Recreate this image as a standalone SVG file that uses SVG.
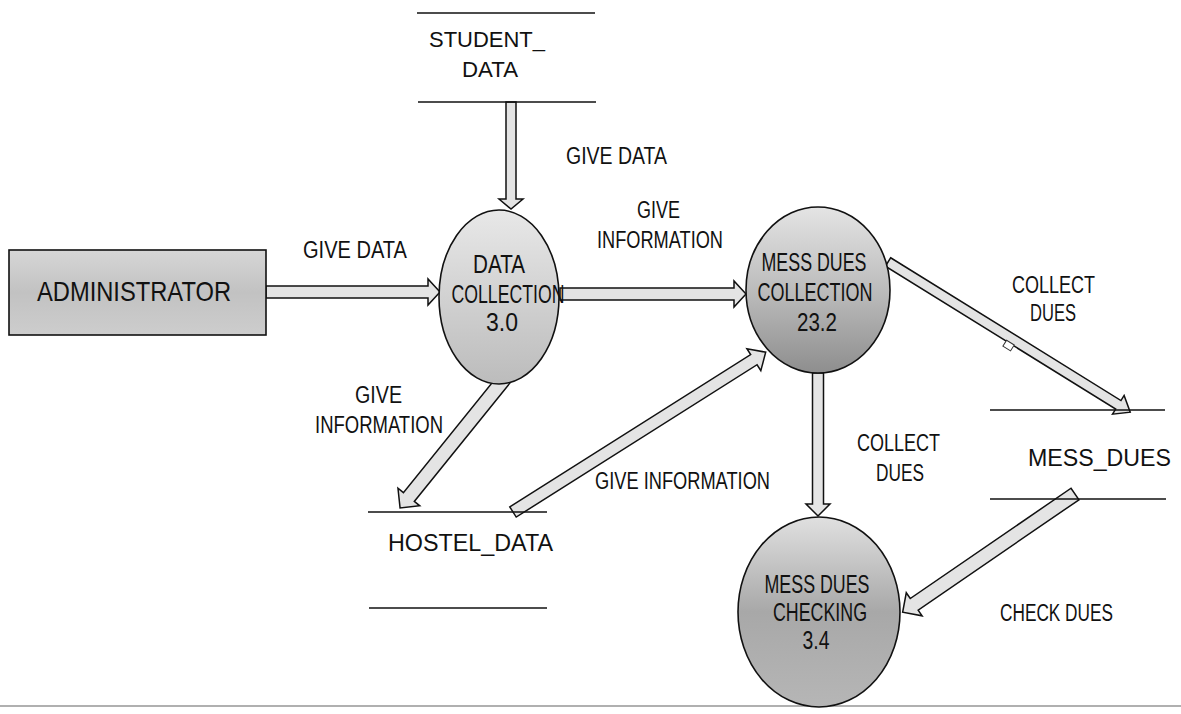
<svg xmlns="http://www.w3.org/2000/svg" width="1181" height="714" viewBox="0 0 1181 714">
<style>
text{font-family:"Liberation Sans",Arial,sans-serif;fill:#111}
.lbl{font-size:23px}
.node{font-size:25px}
.store{font-size:24px}
.sline{stroke:#111;stroke-width:1.6;fill:none}
.arrow{fill:#e4e4e4;stroke:#111;stroke-width:1.5;stroke-linejoin:miter}
.edge{stroke:#111;stroke-width:1.6}
</style>
<defs>
<linearGradient id="gBox" x1="0" y1="0" x2="0" y2="1">
<stop offset="0" stop-color="#d6d6d6"/><stop offset="0.5" stop-color="#c2c2c2"/><stop offset="1" stop-color="#cdcdcd"/>
</linearGradient>
<linearGradient id="gDC" x1="0" y1="0" x2="0" y2="1">
<stop offset="0" stop-color="#e8e8e8"/><stop offset="0.6" stop-color="#cdcdcd"/><stop offset="1" stop-color="#bcbcbc"/>
</linearGradient>
<linearGradient id="gMDC" x1="0" y1="0" x2="0" y2="1">
<stop offset="0" stop-color="#e4e4e4"/><stop offset="0.5" stop-color="#bcbcbc"/><stop offset="1" stop-color="#8e8e8e"/>
</linearGradient>
<linearGradient id="gChk" x1="0" y1="0" x2="0" y2="1">
<stop offset="0" stop-color="#e0e0e0"/><stop offset="0.5" stop-color="#a8a8a8"/><stop offset="1" stop-color="#b6b6b6"/>
</linearGradient>
</defs>
<rect width="1181" height="714" fill="#fff"/>
<line x1="0" y1="706" x2="1181" y2="706" stroke="#b0b0b0" stroke-width="2"/>

<g id="connectors">
<polygon class="arrow" transform="translate(266,292)" points="0,-6 162,-6 162,-13 174,0 162,13 162,6 0,6"/>
<polygon class="arrow" transform="translate(511,102) rotate(90)" points="0,-5 97,-5 97,-12 107,0 97,12 97,5 0,5"/>
<polygon class="arrow" transform="translate(560,294)" points="0,-6 174,-6 174,-13 186,0 174,13 174,6 0,6"/>
<g transform="translate(888,262) rotate(31.8)">
<polygon class="arrow" points="0,-5 271,-5 271,-11 285,0 271,11 271,5 0,5"/>
<rect x="142" y="4" width="9" height="7" fill="#fff" stroke="#333" stroke-width="1"/>
</g>
<polygon class="arrow" transform="translate(818,373) rotate(90)" points="0,-5.5 131,-5.5 131,-12 143,0 131,12 131,5.5 0,5.5"/>
<polygon class="arrow" transform="translate(1075,494) rotate(145.55)" points="0,-7 195,-7 195,-14 209,0 195,14 195,7 0,7"/>
<polygon class="arrow" transform="translate(505,378) rotate(128.93)" points="0,-7 153,-7 153,-14 167,0 153,14 153,7 0,7"/>
<polygon class="arrow" transform="translate(513,512) rotate(-32.31)" points="0,-6 285,-6 285,-13 299,0 285,13 285,6 0,6"/>
<text class="lbl" x="303" y="258" textLength="104" lengthAdjust="spacingAndGlyphs">GIVE DATA</text>
<text class="lbl" x="566" y="164" textLength="101" lengthAdjust="spacingAndGlyphs">GIVE DATA</text>
<text class="lbl" x="637" y="218" textLength="43" lengthAdjust="spacingAndGlyphs">GIVE</text>
<text class="lbl" x="597" y="248" textLength="126" lengthAdjust="spacingAndGlyphs">INFORMATION</text>
<text class="lbl" x="1012" y="293" textLength="83" lengthAdjust="spacingAndGlyphs">COLLECT</text>
<text class="lbl" x="1030" y="321" textLength="46" lengthAdjust="spacingAndGlyphs">DUES</text>
<text class="lbl" x="857" y="451" textLength="83" lengthAdjust="spacingAndGlyphs">COLLECT</text>
<text class="lbl" x="876" y="481" textLength="48" lengthAdjust="spacingAndGlyphs">DUES</text>
<text class="lbl" x="1000" y="621" textLength="113" lengthAdjust="spacingAndGlyphs">CHECK DUES</text>
<text class="lbl" x="595" y="489" textLength="175" lengthAdjust="spacingAndGlyphs">GIVE INFORMATION</text>
<text class="lbl" x="355" y="403" textLength="47" lengthAdjust="spacingAndGlyphs">GIVE</text>
<text class="lbl" x="315" y="433" textLength="128" lengthAdjust="spacingAndGlyphs">INFORMATION</text>
</g>

<g id="administrator">
<rect x="9" y="250" width="257" height="85" fill="url(#gBox)" class="edge"/>
<text x="37" y="301" font-size="28" textLength="194" lengthAdjust="spacingAndGlyphs">ADMINISTRATOR</text>
</g>

<g id="data-collection">
<ellipse cx="499" cy="297" rx="60" ry="87" fill="url(#gDC)" class="edge"/>
<text class="node" x="499" y="273" text-anchor="middle" textLength="52" lengthAdjust="spacingAndGlyphs">DATA</text>
<text class="node" x="508" y="303" text-anchor="middle" textLength="113" lengthAdjust="spacingAndGlyphs">COLLECTION</text>
<text class="node" x="502" y="331" text-anchor="middle" textLength="32" lengthAdjust="spacingAndGlyphs">3.0</text>
</g>

<g id="mess-dues-collection">
<ellipse cx="818" cy="290" rx="72" ry="83" fill="url(#gMDC)" class="edge"/>
<text class="node" x="814" y="271" text-anchor="middle" textLength="105" lengthAdjust="spacingAndGlyphs">MESS DUES</text>
<text class="node" x="815" y="301" text-anchor="middle" textLength="115" lengthAdjust="spacingAndGlyphs">COLLECTION</text>
<text class="node" x="817" y="331" text-anchor="middle" textLength="40" lengthAdjust="spacingAndGlyphs">23.2</text>
</g>

<g id="mess-dues-checking">
<ellipse cx="819" cy="612" rx="81" ry="95" fill="url(#gChk)" class="edge"/>
<text class="node" x="817" y="593" text-anchor="middle" textLength="105" lengthAdjust="spacingAndGlyphs">MESS DUES</text>
<text class="node" x="820" y="621" text-anchor="middle" textLength="94" lengthAdjust="spacingAndGlyphs">CHECKING</text>
<text class="node" x="816" y="649" text-anchor="middle" textLength="27" lengthAdjust="spacingAndGlyphs">3.4</text>
</g>

<g id="student-data">
<line class="sline" x1="417" y1="13" x2="595" y2="13"/>
<line class="sline" x1="418" y1="102" x2="596" y2="102"/>
<text x="429" y="47" font-size="22" textLength="116" lengthAdjust="spacingAndGlyphs">STUDENT_</text>
<text x="462" y="77" font-size="22" textLength="56" lengthAdjust="spacingAndGlyphs">DATA</text>
</g>

<g id="hostel-data">
<line class="sline" x1="368" y1="512" x2="547" y2="512"/>
<line class="sline" x1="369" y1="608" x2="547" y2="608"/>
<text class="store" x="388" y="551" textLength="165" lengthAdjust="spacingAndGlyphs">HOSTEL_DATA</text>
</g>

<g id="mess-dues-store">
<line class="sline" x1="990" y1="410" x2="1165" y2="410"/>
<line class="sline" x1="990" y1="499" x2="1166" y2="499"/>
<text class="store" x="1028" y="466" textLength="143" lengthAdjust="spacingAndGlyphs">MESS_DUES</text>
</g>
</svg>
